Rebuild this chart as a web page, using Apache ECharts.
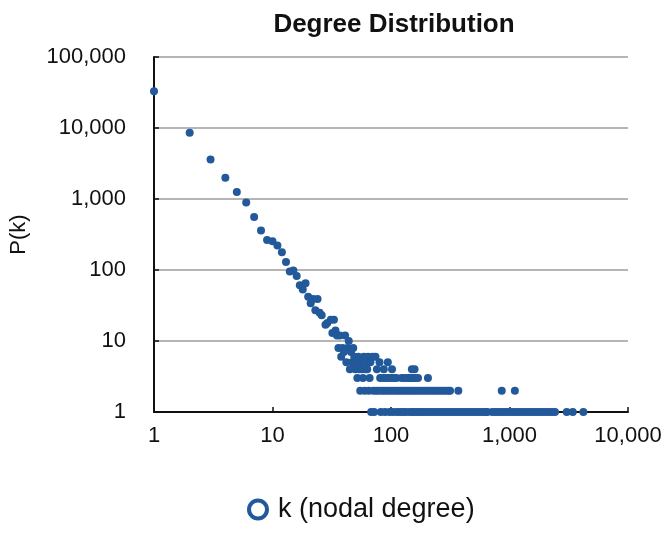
<!DOCTYPE html>
<html>
<head>
<meta charset="utf-8">
<script src="https://cdn.jsdelivr.net/npm/echarts@6/dist/echarts.min.js"></script>
<style>
  html, body { margin: 0; padding: 0; background: #ffffff; }
  #chart { width: 666px; height: 533px; }
</style>
</head>
<body>
<div id="chart"></div>
<script>
// steep head of the distribution: degree k -> count P(k)
const headDegree = [1, 2, 3, 4, 5, 6, 7, 8, 9, 10, 11, 12, 13, 14, 15, 16, 17, 18, 19, 20,
  21, 22, 23, 24, 25, 26, 28, 29, 31, 32, 33, 34, 35, 37, 41, 44];
const headCount = [33000, 8600, 3600, 2000, 1250, 890, 560, 360, 265, 255, 222, 178, 130, 95, 98, 82, 61, 53, 65, 42,
  34, 39, 27, 39, 25, 23, 17, 18, 20, 13, 20, 14, 12, 12, 12, 10];

// tail: degrees that have small counts (1..8)
const degreesWith8 = [36, 39, 43, 48];
const degreesWith7 = [40, 46];
const degreesWith6 = [38, 49, 53, 59, 64, 70, 74];
const degreesWith5 = [42, 47, 51, 56, 62, 67, 80, 94];
const degreesWith4 = [45, 50, 54, 57, 61, 63, 76, 87, 102, 150, 158];
const degreesWith3 = [52, 58, 66, 81, 86, 91, 96, 101, 106, 111, 123, 129, 136, 142, 147, 153, 161, 169, 205];
const degreesWith2 = [55, 60, 65, 71, 75, 79, 84, 88, 93, 98, 103, 109, 115, 121, 127, 134, 141, 148, 156, 164,
  173, 182, 192, 202, 213, 224, 236, 248, 261, 275, 290, 305, 315, 370, 860, 1110];
const degreesWith1 = [68, 72, 82, 89, 97, 104, 112, 119, 126, 133, 143, 151, 159, 168, 177, 187, 198, 210, 222, 235,
  250, 265, 280, 297, 314, 332, 352, 372, 395, 418, 443, 470, 498, 528, 560, 593, 628, 650, 715, 758,
  803, 851, 902, 956, 1013, 1074, 1138, 1206, 1278, 1354, 1435, 1521, 1612, 1708, 1810, 1918, 2033, 2154, 2283, 2420,
  3040, 3420, 4200];

const xTicks = [1, 10, 100, 1000, 10000];
const yTicks = [1, 10, 100, 1000, 10000, 100000];

const tail = [
  [8, degreesWith8], [7, degreesWith7], [6, degreesWith6], [5, degreesWith5],
  [4, degreesWith4], [3, degreesWith3], [2, degreesWith2], [1, degreesWith1]
];

var points = headDegree.map(function (k, i) { return [k, headCount[i]]; });
tail.forEach(function (row) {
  row[1].forEach(function (k) { points.push([k, row[0]]); });
});

const font = 'Liberation Sans, Helvetica, Arial, sans-serif';
const blue = '#22599a';

function fmt(v) {
  return Math.round(v).toLocaleString('en-US');
}

const option = {
  backgroundColor: '#ffffff',
  animation: false,
  title: {
    text: 'Degree Distribution',
    left: 389,
    top: 7,
    textAlign: 'center',
    textStyle: { fontFamily: font, fontSize: 26, fontWeight: 'bold', color: '#111' }
  },
  legend: {
    data: ['k (nodal degree)'],
    left: 242,
    top: 491,
    icon: 'circle',
    itemWidth: 18,
    itemHeight: 18,
    itemStyle: { color: '#ffffff', borderColor: blue, borderWidth: 4 },
    textStyle: { fontFamily: font, fontSize: 27, color: '#111', padding: [0, 0, 0, 6] }
  },
  grid: { left: 154, right: 38, top: 57, bottom: 121 },
  xAxis: {
    type: 'log',
    logBase: 10,
    min: xTicks[0],
    max: xTicks[xTicks.length - 1],
    axisLine: { lineStyle: { color: '#111', width: 2 } },
    axisTick: { inside: true, length: 5, lineStyle: { color: '#111', width: 1.5 } },
    splitLine: { show: false },
    axisLabel: { fontFamily: font, fontSize: 22, color: '#111', margin: 13, formatter: fmt }
  },
  yAxis: {
    type: 'log',
    logBase: 10,
    min: yTicks[0],
    max: yTicks[yTicks.length - 1],
    name: 'P(k)',
    nameLocation: 'middle',
    nameGap: 124,
    nameTextStyle: { fontFamily: font, fontSize: 22, color: '#111' },
    axisLine: { show: true, lineStyle: { color: '#111', width: 2 } },
    axisTick: { show: true, inside: true, length: 5, lineStyle: { color: '#111', width: 1.5 } },
    splitLine: { show: true, lineStyle: { color: '#b5b5b5', width: 2 } },
    axisLabel: { fontFamily: font, fontSize: 22, color: '#111', margin: 28, formatter: fmt }
  },
  series: [{
    name: 'k (nodal degree)',
    type: 'scatter',
    symbol: 'circle',
    symbolSize: 8,
    itemStyle: { color: blue, opacity: 1 },
    data: points
  }]
};

var chart = echarts.init(document.getElementById('chart'));
chart.setOption(option);
</script>
</body>
</html>
